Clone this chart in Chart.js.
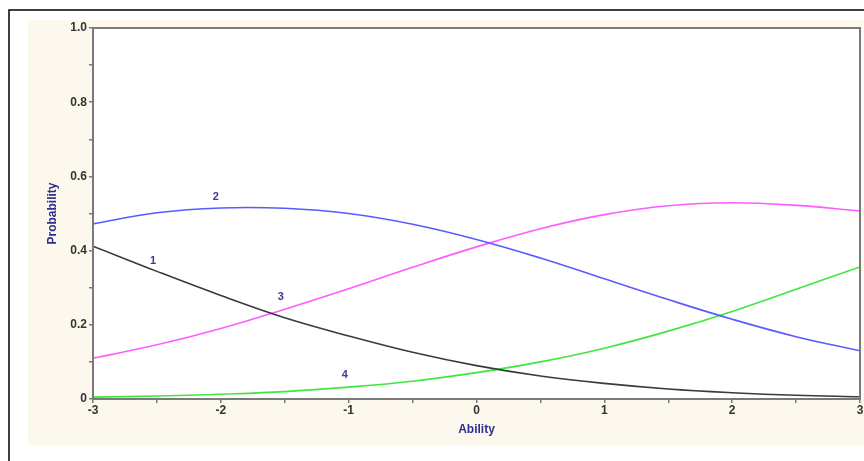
<!DOCTYPE html>
<html><head><meta charset="utf-8">
<script src="https://cdn.jsdelivr.net/npm/chart.js@4.4.1/dist/chart.umd.min.js"></script>
<style>html,body{margin:0;padding:0;background:#fff}#wrap{width:864px;height:461px;position:relative}</style>
</head><body><div id="wrap"><canvas id="c" width="864" height="461"></canvas></div>
<script>
const abilities = [-3,-2.5,-2,-1.5,-1,-0.5,0,0.5,1,1.5,2,2.5,3];
const cat1 = [0.412,0.344,0.279,0.219,0.170,0.126,0.090,0.062,0.042,0.027,0.017,0.010,0.006];
const cat2 = [0.472,0.502,0.515,0.514,0.500,0.471,0.430,0.380,0.324,0.268,0.215,0.168,0.130];
const cat3 = [0.110,0.146,0.190,0.242,0.297,0.355,0.410,0.459,0.497,0.521,0.529,0.522,0.507];
const cat4 = [0.005,0.008,0.013,0.020,0.032,0.048,0.071,0.100,0.137,0.183,0.236,0.296,0.356];
const curveNames = ['1','2','3','4'];
const labelX = [-2.53,-2.04,-1.53,-1.03];
const labelY = [0.372,0.544,0.275,0.065];
const yTickValues = [0,0.2,0.4,0.6,0.8,1.0];
const xTickValues = [-3,-2,-1,0,1,2,3];

const colors = ['#3a3a3a','#5a5aff','#ff5cff','#3fe63f'];
const series = [cat1,cat2,cat3,cat4];
const datasets = series.map((s,i)=>({
  label: curveNames[i],
  data: abilities.map((a,j)=>({x:a,y:s[j]})),
  borderColor: colors[i], borderWidth: 1.6, pointRadius: 0,
  tension: 0.4, fill:false
}));

const bgPlugin = {
  id:'bg',
  beforeDraw(chart){
    const ctx = chart.ctx; const a = chart.chartArea;
    ctx.save();
    ctx.fillStyle = '#fff'; ctx.fillRect(0,0,chart.width,chart.height);
    ctx.fillStyle = '#fdf8ee'; ctx.fillRect(28,20,chart.width-28,425);
    ctx.strokeStyle = '#000'; ctx.lineWidth = 1.5;
    ctx.beginPath(); ctx.moveTo(9,chart.height); ctx.lineTo(9,10); ctx.lineTo(chart.width,10); ctx.stroke();
    ctx.fillStyle = '#fff'; ctx.fillRect(a.left,a.top,a.right-a.left,a.bottom-a.top);
    ctx.restore();
  },
  afterDatasetsDraw(chart){
    const ctx = chart.ctx; const a = chart.chartArea;
    const xs = chart.scales.x, ys = chart.scales.y;
    ctx.save();
    ctx.strokeStyle = '#7a7a7a'; ctx.lineWidth = 2;
    ctx.strokeRect(a.left,a.top,a.right-a.left,a.bottom-a.top);
    ctx.fillStyle = '#3b3b9a'; ctx.font = 'bold 11px "Liberation Sans", Arial, sans-serif';
    ctx.textAlign = 'center'; ctx.textBaseline = 'middle';
    curveNames.forEach((n,i)=>{
      ctx.fillText(n, xs.getPixelForValue(labelX[i]), ys.getPixelForValue(labelY[i]));
    });
    ctx.restore();
  }
};

const tickFont = {family:'"Liberation Sans", Arial, sans-serif', size:12, weight:'bold'};
const titleFont = {family:'"Liberation Sans", Arial, sans-serif', size:12, weight:'bold'};

new Chart(document.getElementById('c'), {
  type:'line',
  data:{datasets},
  options:{
    responsive:false, animation:false,
    layout:{padding:{left:40,top:28,right:4,bottom:16}},
    plugins:{legend:{display:false},tooltip:{enabled:false}},
    scales:{
      x:{type:'linear', min:-3, max:3,
        afterBuildTicks(s){ const t=[]; for(let k=0;k<=12;k++) t.push({value:-3+k*0.5}); s.ticks=t; },
        afterFit(s){ s.height = 46; },
        ticks:{color:'#333', font:tickFont, padding:0, maxRotation:0, autoSkip:false,
          callback(v){ const r=Math.round(v); return (Math.abs(v-r)<1e-6 && xTickValues.includes(r)) ? String(r) : ''; }},
        grid:{drawOnChartArea:false, drawTicks:true, tickLength:4, color:'#7a7a7a', lineWidth:1.5},
        border:{display:true, color:'#7a7a7a', width:2},
        title:{display:true, text:'Ability', color:'#2e2e8e', font:titleFont, padding:{top:0,bottom:8}}
      },
      y:{type:'linear', min:0, max:1,
        afterBuildTicks(s){ const t=[]; for(let k=0;k<=10;k++) t.push({value:k/10}); s.ticks=t; },
        afterFit(s){ s.width = 53; },
        ticks:{color:'#333', font:tickFont, padding:2, autoSkip:false,
          callback(v){ const r=Math.round(v*10)/10; const ok = yTickValues.some(t=>Math.abs(t-r)<1e-6) && Math.abs(v-r)<1e-6 && Math.round(r*10)%2===0; return ok ? (r===0?'0':r.toFixed(1)) : ''; }},
        grid:{drawOnChartArea:false, drawTicks:true, tickLength:4, color:'#7a7a7a', lineWidth:1.5},
        border:{display:true, color:'#7a7a7a', width:2},
        title:{display:true, text:'Probability', color:'#2e2e8e', font:titleFont, padding:{top:5,bottom:0}}
      }
    }
  },
  plugins:[bgPlugin]
});
</script></body></html>
